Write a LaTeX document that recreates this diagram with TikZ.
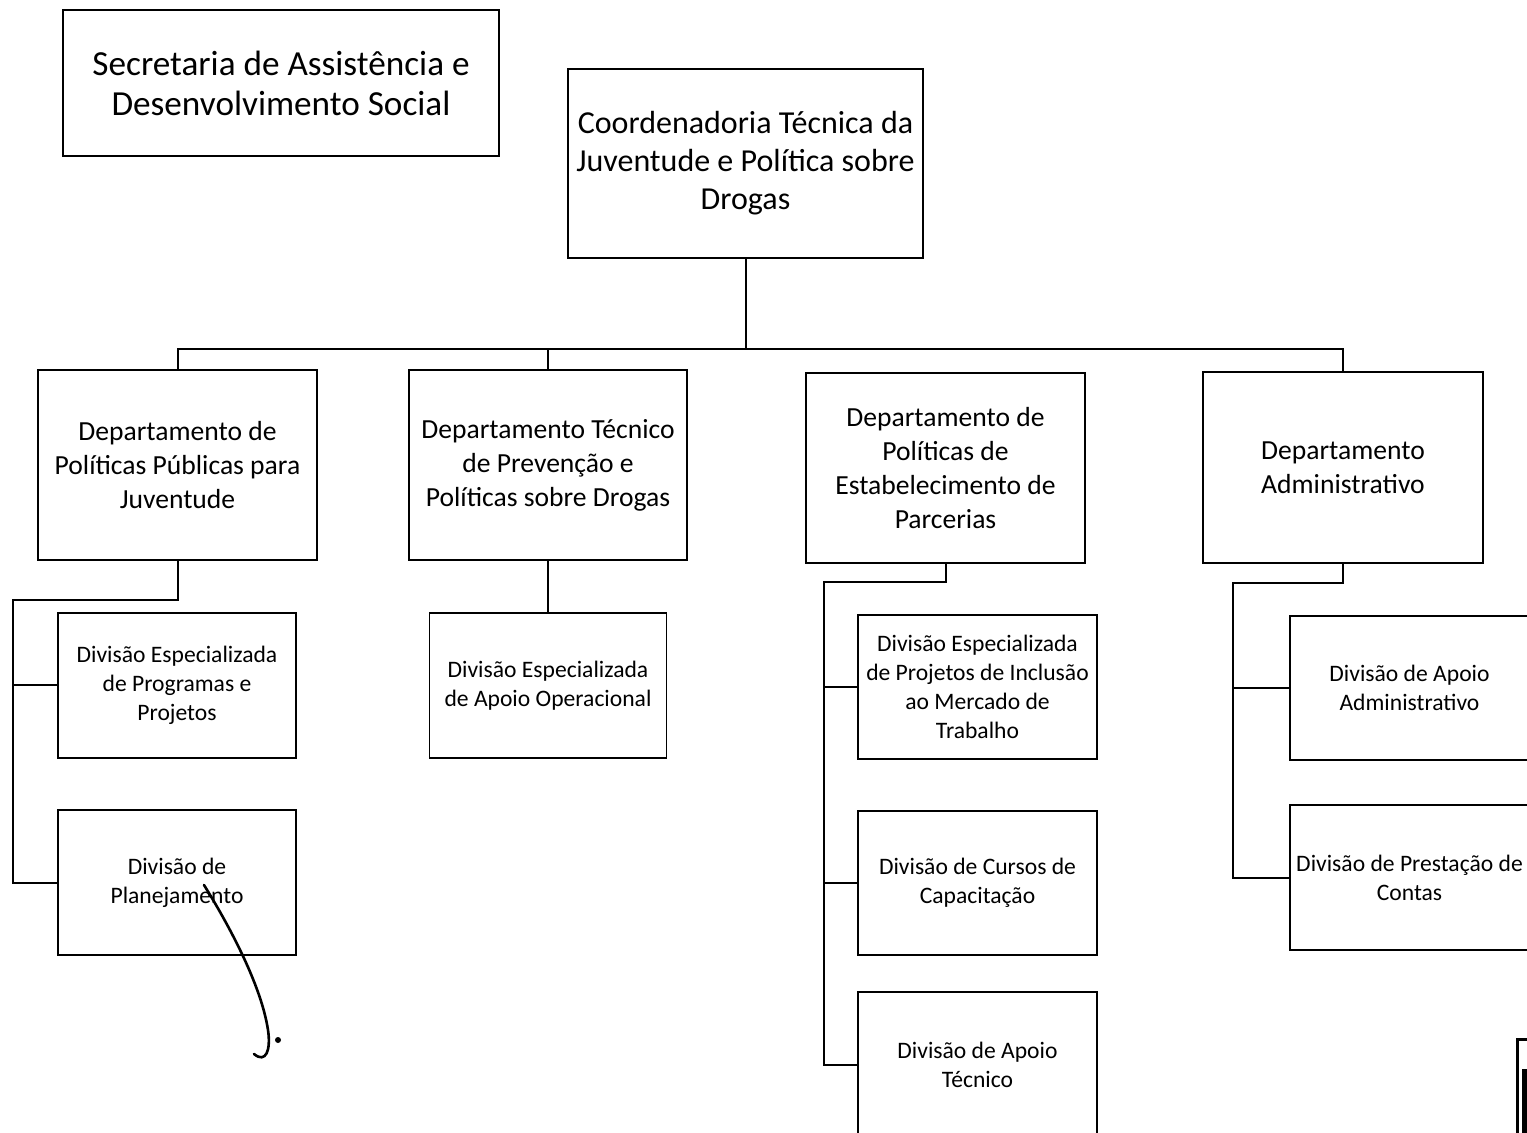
\documentclass[tikz,border=0pt]{standalone}
\usepackage{fontspec}
\setmainfont{Carlito}
\begin{document}
\begin{tikzpicture}[x=0.5pt,y=-0.5pt,
  orgbox/.style={draw, line width=0.8pt, rectangle, inner sep=0pt, align=center},
  bigtxt/.style={font=\fontsize{17.6}{20}\selectfont},
  coordtxt/.style={font=\fontsize{16}{19}\selectfont},
  depttxt/.style={font=\fontsize{13.8}{17}\selectfont},
  divtxt/.style={font=\fontsize{11.8}{14.5}\selectfont},
  conn/.style={line width=1pt}]
\useasboundingbox (0,0) rectangle (1527,1133);
\clip (0,0) rectangle (1527,1133);
% boxes
\node[orgbox,bigtxt,minimum width=218pt,minimum height=73pt] (sec) at (281,83) {Secretaria de Assistência e\\Desenvolvimento Social};
\node[orgbox,coordtxt,minimum width=177.5pt,minimum height=94.5pt] (coord) at (745.5,163.5) {Coordenadoria Técnica da\\Juventude e Política sobre\\Drogas};
\node[orgbox,depttxt,minimum width=139.5pt,minimum height=95pt] (d1) at (177.5,465) {Departamento de\\Políticas Públicas para\\Juventude};
\node[orgbox,depttxt,minimum width=139pt,minimum height=95pt] (d2) at (548,465) {Departamento Técnico\\de Prevenção e\\Políticas sobre Drogas};
\node[orgbox,depttxt,minimum width=139.5pt,minimum height=95pt] (d3) at (945.5,468) {Departamento de\\Políticas de\\Estabelecimento de\\Parcerias};
\node[orgbox,depttxt,minimum width=140pt,minimum height=95.5pt] (d4) at (1343,467.5) {Departamento\\Administrativo};
\node[orgbox,divtxt,minimum width=119pt,minimum height=72.5pt] (e1) at (177,685.5) {Divisão Especializada\\de Programas e\\Projetos};
\node[orgbox,divtxt,minimum width=119pt,minimum height=72.5pt] (e2) at (177,882.5) {Divisão de\\Planejamento};
\node[orgbox,divtxt,minimum width=118.5pt,minimum height=72.5pt] (p1) at (548,685.5) {Divisão Especializada\\de Apoio Operacional};
\node[orgbox,divtxt,minimum width=119.5pt,minimum height=72pt] (f1) at (977.5,687) {Divisão Especializada\\de Projetos de Inclusão\\ao Mercado de\\Trabalho};
\node[orgbox,divtxt,minimum width=119.5pt,minimum height=72pt] (f2) at (977.5,883) {Divisão de Cursos de\\Capacitação};
\node[orgbox,divtxt,minimum width=119.5pt,minimum height=72.5pt] (f3) at (977.5,1064.5) {Divisão de Apoio\\Técnico};
\node[orgbox,divtxt,minimum width=119.5pt,minimum height=72pt] (g1) at (1409.5,688) {Divisão de Apoio\\Administrativo};
\node[orgbox,divtxt,minimum width=119.5pt,minimum height=72.5pt] (g2) at (1409.5,877.5) {Divisão de Prestação de\\Contas};
% top bus
\coordinate (b1) at (d1.north |- 0,349);
\coordinate (b4) at (d4.north |- 0,349);
\draw[conn] (coord.south) -- (coord.south |- b1);
\draw[conn] (d1.north) -- (b1) -- (b4) -- (d4.north);
\draw[conn] (d2.north) -- (d2.north |- b1);
% department 1
\coordinate (s1) at (13,600);
\draw[conn] (d1.south) -- (d1.south |- s1) -- (s1) -- (e2.west -| s1) -- (e2.west);
\draw[conn] (e1.west -| s1) -- (e1.west);
% department 2
\draw[conn] (d2.south) -- (p1.north);
% department 3
\coordinate (s3) at (824,582);
\draw[conn] (d3.south) -- (d3.south |- s3) -- (s3) -- (f3.west -| s3) -- (f3.west);
\draw[conn] (f1.west -| s3) -- (f1.west);
\draw[conn] (f2.west -| s3) -- (f2.west);
% department 4
\coordinate (s4) at (1233,583);
\draw[conn] (d4.south) -- (d4.south |- s4) -- (s4) -- (g2.west -| s4) -- (g2.west);
\draw[conn] (g1.west -| s4) -- (g1.west);
% handwritten stroke
\draw[line width=1.3pt, line cap=round] (204,885) .. controls (235,935) and (262,990) .. (268,1030) .. controls (271,1050) and (266,1064) .. (254,1054);
\fill (278,1040) circle (1.5pt);
% mark at bottom right
\draw[line width=1.5pt] (1530,1039) -- (1517,1039) -- (1517,1140);
\draw[line width=2.5pt] (1524,1069) -- (1524,1140);
\end{tikzpicture}
\end{document}
